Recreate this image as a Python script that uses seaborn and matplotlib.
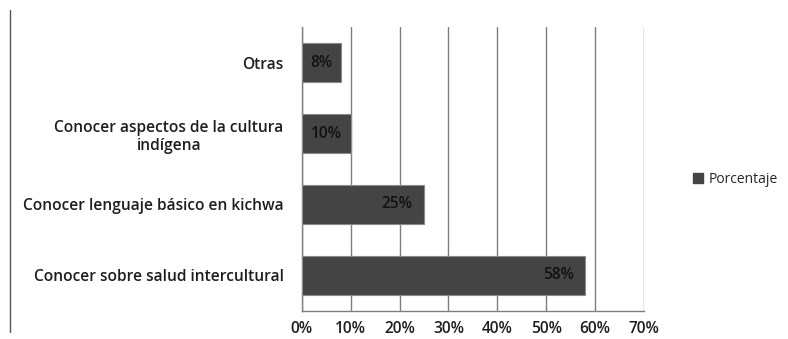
import matplotlib
matplotlib.use("Agg")
import matplotlib.pyplot as plt
from matplotlib.lines import Line2D
from matplotlib.patches import Patch
import seaborn as sns
import pandas as pd

categories = [
    "Otras",
    "Conocer aspectos de la cultura\nindígena",
    "Conocer lenguaje básico en kichwa",
    "Conocer sobre salud intercultural",
]
values = [8, 10, 25, 58]
tick_values = [0, 10, 20, 30, 40, 50, 60, 70]
series_name = "Porcentaje"

df = pd.DataFrame({"categoria": categories, "valor": values})

sns.set_theme(style="white")
plt.rcParams["font.family"] = ["Open Sans", "DejaVu Sans"]

FS = 11.2
TXT = "#1e1e1e"

fig = plt.figure(figsize=(7.88, 3.39), dpi=100)
ax = fig.add_axes([0.383, 0.083, 0.434, 0.837])

bar_color = "#444444"
sns.barplot(data=df, x="valor", y="categoria", orient="h", color=bar_color,
            saturation=1, width=0.55, edgecolor="#8a8a8a", linewidth=0.8,
            ax=ax, zorder=3)

ax.set_xlim(0, 70)
ax.set_xticks(tick_values)
ax.set_xticklabels([f"{t}%" for t in tick_values], fontsize=FS,
                   fontweight="semibold", color=TXT)
ax.tick_params(axis="x", length=0, pad=7)
ax.tick_params(axis="y", length=0, pad=13)
for lbl in ax.get_yticklabels():
    lbl.set_fontsize(FS)
    lbl.set_fontweight("semibold")
    lbl.set_color(TXT)
    lbl.set_horizontalalignment("right")
    lbl.set_multialignment("center")
ax.set_xlabel("")
ax.set_ylabel("")

ax.grid(axis="x", color="#7f7f7f", linewidth=1.0, zorder=0)
ax.set_axisbelow(True)
for side in ["top", "right"]:
    ax.spines[side].set_visible(False)
for side in ["left", "bottom"]:
    ax.spines[side].set_color("#7f7f7f")
    ax.spines[side].set_linewidth(1.0)

# value labels: inside the bar end, centred when the bar is short
for i, v in enumerate(values):
    if v < 15:
        ax.annotate(f"{v}%", xy=(v / 2, i), ha="center", va="center",
                    fontsize=FS, fontweight="semibold", color="#111111",
                    zorder=5)
    else:
        ax.annotate(f"{v}%", xy=(v, i), xytext=(-8, 0),
                    textcoords="offset points", ha="right", va="center",
                    fontsize=FS, fontweight="semibold", color="#111111",
                    zorder=5)

handles = [Patch(facecolor=bar_color, edgecolor=bar_color)]
fig.legend(handles, [series_name], loc="center left",
           bbox_to_anchor=(0.864, 0.47), frameon=False,
           handlelength=0.7, handleheight=0.7, handletextpad=0.4,
           prop={"weight": "normal", "size": 10})

fig.add_artist(Line2D([0.0127, 0.0127], [0.02, 0.97], transform=fig.transFigure,
                      color="#555555", linewidth=1.0))

fig.savefig("out.png", dpi=100)
